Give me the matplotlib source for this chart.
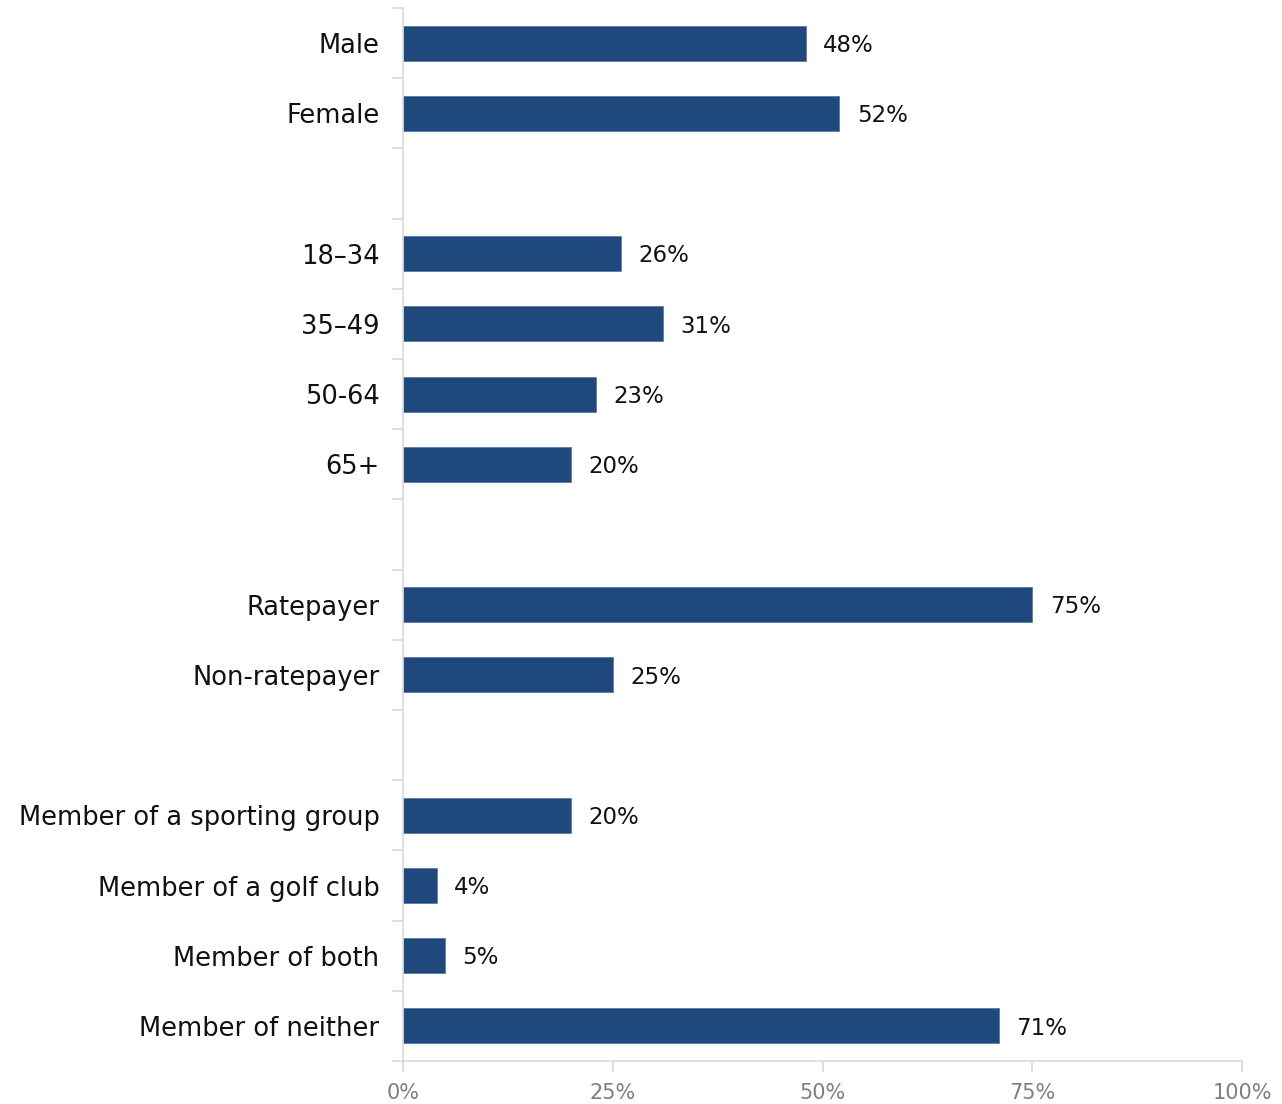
import matplotlib
matplotlib.use("Agg")
import matplotlib.pyplot as plt
from matplotlib.ticker import FixedLocator, PercentFormatter

# Survey profile, grouped; empty strings are spacer rows between groups
categories = [
    "Male", "Female", "",
    "18–34", "35–49", "50-64", "65+", "",
    "Ratepayer", "Non-ratepayer", "",
    "Member of a sporting group", "Member of a golf club",
    "Member of both", "Member of neither",
]
values = [48, 52, None, 26, 31, 23, 20, None, 75, 25, None, 20, 4, 5, 71]
x_ticks = [0, 25, 50, 75, 100]

bar_color = "#1F497D"
axis_color = "#D9D9D9"

plt.rcParams["font.family"] = ["DejaVu Sans"]

fig = plt.figure(figsize=(12.82, 11.04), dpi=100)
W, H = 1282, 1104
ax = fig.add_axes([403 / W, 1 - 1061 / H, (1242 - 403) / W, (1061 - 8) / H])

n = len(categories)
ypos = list(range(n))
for y, v in zip(ypos, values):
    if v is None:
        continue
    ax.barh(y, v, height=0.5, color=bar_color, edgecolor="#5A7BA6", linewidth=0.6)
    ax.text(v + 2.1, y + 0.03, f"{v}%", va="center", ha="left", fontsize=16.5,
            color="#111111")

ax.set_xlim(0, 100)
ax.set_ylim(n - 0.5, -0.5)

ax.set_yticks(ypos)
ax.set_yticklabels(categories, fontsize=18.5, color="#111111")
ax.yaxis.set_minor_locator(FixedLocator([i - 0.5 for i in range(n + 1)]))
ax.tick_params(axis="y", which="major", length=0, pad=17)
ax.tick_params(axis="y", which="minor", length=8, width=1.2, color=axis_color)

ax.set_xticks(x_ticks)
ax.xaxis.set_major_formatter(PercentFormatter(decimals=0))
ax.tick_params(axis="x", length=8, width=1.2, color=axis_color, labelsize=15,
               labelcolor="#7F7F7F", pad=8)

for side in ("top", "right"):
    ax.spines[side].set_visible(False)
for side in ("left", "bottom"):
    ax.spines[side].set_color(axis_color)
    ax.spines[side].set_linewidth(1.2)

fig.savefig("out.png", dpi=100, facecolor="white")
